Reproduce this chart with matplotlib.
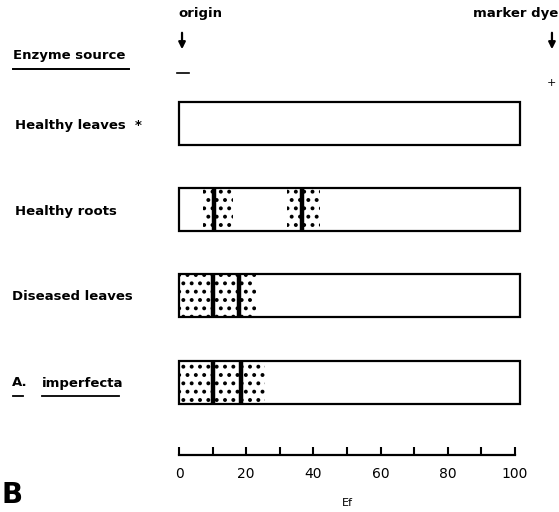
import matplotlib.pyplot as plt
from matplotlib.patches import Rectangle

plt.rcParams['hatch.linewidth'] = 1.6

# enzyme sources (rows of the diagram, top to bottom)
sources = ["Healthy leaves", "Healthy roots", "Diseased leaves", "A. imperfecta"]
# dotted zones of activity, in Ef units (start, end)
zones = [
    [],
    [(7, 16), (32, 42)],
    [(0, 23)],
    [(0, 25.5)],
]
# main bands (thick lines), in Ef units
bands = [
    [],
    [10.5, 36.5],
    [10, 18],
    [10, 18.5],
]
ef_ticks = [0, 20, 40, 60, 80, 100]
ef_minor = [10, 30, 50, 70, 90]

W, H = 559, 512
fig = plt.figure(figsize=(W / 100, H / 100), dpi=100)

# strip area: x in Ef units, y in pixel rows
ax = fig.add_axes([179 / W, 0, 336 / W, 1])
ax.set_xlim(0, 100)
ax.set_ylim(H, 0)
ax.axis('off')

row_top = [102, 188, 274, 361]
row_h = 43
for i, name in enumerate(sources):
    y0 = row_top[i]
    for a, b in zones[i]:
        ax.add_patch(Rectangle((a, y0), b - a, row_h, facecolor='white',
                               edgecolor='black', hatch='..', linewidth=0))
    for x in bands[i]:
        ax.plot([x, x], [y0, y0 + row_h], color='black', lw=3.2,
                solid_capstyle='butt')
    ax.add_patch(Rectangle((0, y0), 101.5, row_h, facecolor='none',
                           edgecolor='black', linewidth=1.6, clip_on=False))

font = dict(family='DejaVu Sans', fontweight='bold', fontsize=9.5)

# row labels
lab_y = [125, 211, 296, 383]
lab_x = [15, 15, 12, 12]
for i, name in enumerate(sources):
    if i == 0:
        fig.text(lab_x[i] / W, 1 - lab_y[i] / H, name + "  *", va='center',
                 ha='left', **font)
    elif i == 3:
        fig.text(lab_x[i] / W, 1 - lab_y[i] / H, "A.", va='center',
                 ha='left', **font)
        fig.text(42 / W, 1 - lab_y[i] / H, "imperfecta", va='center',
                 ha='left', **font)
        fig.lines.append(plt.Line2D([13 / W, 23 / W], [1 - 396 / H] * 2,
                                    color='black', lw=1.3,
                                    transform=fig.transFigure))
        fig.lines.append(plt.Line2D([42 / W, 119 / W], [1 - 396 / H] * 2,
                                    color='black', lw=1.3,
                                    transform=fig.transFigure))
    else:
        fig.text(lab_x[i] / W, 1 - lab_y[i] / H, name, va='center',
                 ha='left', **font)

# header
fig.text(13 / W, 1 - 56 / H, "Enzyme source", va='center', ha='left', **font)
fig.lines.append(plt.Line2D([13 / W, 129 / W], [1 - 69 / H] * 2,
                            color='black', lw=1.4, transform=fig.transFigure))
fig.text(178 / W, 1 - 13 / H, "origin", va='center', ha='left', **font)
fig.text(558 / W, 1 - 13 / H, "marker dye", va='center', ha='right', **font)
ax.annotate('', xy=(0.9, 52), xytext=(0.9, 30),
            arrowprops=dict(arrowstyle='-|>', color='black', lw=1.6,
                            mutation_scale=10), annotation_clip=False)
ax.annotate('', xy=(111, 52), xytext=(111, 30),
            arrowprops=dict(arrowstyle='-|>', color='black', lw=1.6,
                            mutation_scale=10), annotation_clip=False)
ax.plot([-0.5, 3], [73, 73], color='black', lw=1.2, clip_on=False)
ax.text(111, 83, "+", ha='center', va='center', fontsize=8, clip_on=False)

# Ef scale
sax = fig.add_axes([179 / W, 1 - 455 / H, 336 / W, 0.0001])
sax.set_xlim(0, 100)
for s in ['top', 'left', 'right']:
    sax.spines[s].set_visible(False)
sax.spines['bottom'].set_linewidth(1.6)
sax.set_yticks([])
sax.set_xticks(ef_ticks)
sax.set_xticks(ef_minor, minor=True)
sax.tick_params(axis='x', which='both', direction='in', length=6, width=1.5,
                pad=9, labelsize=10)
sax.set_xlabel("Ef", fontsize=8, labelpad=12)

fig.text(2 / W, 1 - 495 / H, "B", fontsize=20, fontweight='bold',
         va='center', ha='left')

fig.savefig("out.png", dpi=100)
